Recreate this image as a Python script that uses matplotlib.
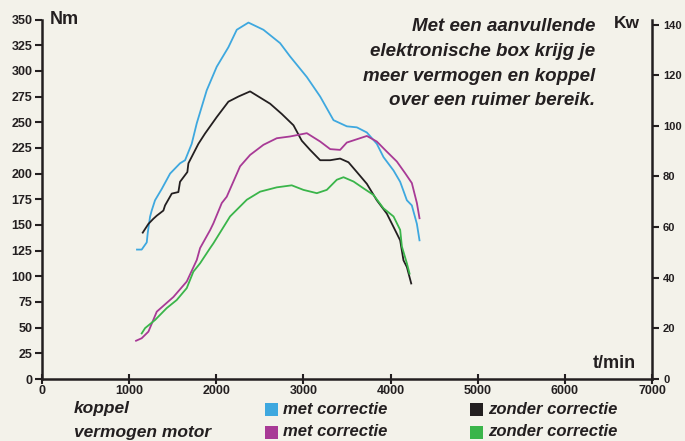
import matplotlib
matplotlib.use("Agg")
import matplotlib.pyplot as plt
from matplotlib.patches import Rectangle

# --- data ---
rpm_koppel_met = [1090, 1144, 1202, 1213, 1240, 1259, 1297, 1374, 1470, 1584, 1642, 1718, 1776, 1890,
                  2005, 2139, 2235, 2369, 2541, 2732, 2847, 3039, 3192, 3345, 3498, 3613, 3728, 3842,
                  3919, 4034, 4110, 4187, 4244, 4302, 4332]
nm_koppel_met = [126, 126, 133, 142, 158, 164, 174, 185, 200, 210, 213, 229, 249, 281,
                 304, 323, 340, 347, 340, 327, 314, 294, 275, 252, 246, 245, 240, 229,
                 216, 203, 192, 174, 169, 151, 135]

rpm_koppel_zonder = [1156, 1221, 1278, 1317, 1393, 1412, 1489, 1565, 1584, 1668, 1680, 1795, 1871,
                     2005, 2139, 2254, 2388, 2503, 2618, 2752, 2886, 2981, 3077, 3192, 3307, 3421,
                     3517, 3613, 3728, 3842, 3957, 4034, 4110, 4148, 4187, 4237]
nm_koppel_zonder = [142.5, 151, 156, 159, 164, 169, 180.5, 182, 192, 201.5, 210, 229, 239,
                    255, 270, 275, 280, 274, 268, 258, 247, 232, 223, 213, 213, 214.6,
                    211, 201.5, 190, 174, 161, 148, 135, 115.6, 109, 93]

rpm_vermogen_met = [1079, 1144, 1221, 1317, 1508, 1661, 1776, 1814, 1929, 1967, 2063, 2120, 2273,
                    2388, 2541, 2694, 2847, 3039, 3192, 3307, 3421, 3498, 3613, 3728, 3842, 3957,
                    4072, 4167, 4244, 4302, 4332]
kw_vermogen_met = [15.1, 16.1, 18.7, 26.6, 32.4, 38.5, 47.0, 51.7, 58.8, 61.5, 69.5, 72, 84,
                   88.5, 92.5, 95.1, 95.8, 97.1, 93.8, 90.8, 90.5, 93.4, 94.7, 96, 93.8, 89.8,
                   85.9, 81.3, 77.4, 69.5, 63.5]

rpm_vermogen_zonder = [1144, 1183, 1297, 1431, 1546, 1661, 1737, 1814, 1929, 1967, 2158, 2350,
                       2503, 2694, 2866, 3000, 3154, 3268, 3383, 3460, 3575, 3690, 3804, 3919,
                       4034, 4110, 4130, 4187, 4218]
kw_vermogen_zonder = [18.0, 20.1, 23.3, 28, 31.2, 35.9, 42.4, 45.7, 51.7, 53.6, 64.2, 70.8,
                      74, 75.7, 76.5, 74.7, 73.4, 74.7, 78.7, 79.7, 78, 75.3, 72.7, 67.4,
                      64.2, 58.9, 52.3, 45.7, 41.6]

nm_ticks = list(range(0, 351, 25))
kw_ticks = list(range(0, 141, 20))
rpm_ticks = list(range(0, 7001, 1000))

title_lines = "Met een aanvullende\nelektronische box krijg je\nmeer vermogen en koppel\nover een ruimer bereik."

BG = "#f3f2ea"
INK = "#231f20"
BLUE = "#3ea8df"
BLACK = "#231f20"
MAGENTA = "#a83a96"
GREEN = "#3ab54a"

plt.rcParams["font.family"] = ["Liberation Sans", "DejaVu Sans"]

fig = plt.figure(figsize=(6.85, 4.41), dpi=100, facecolor=BG)
ax = fig.add_axes([42 / 685, 62 / 441, 610 / 685, 359.5 / 441])
ax.set_facecolor(BG)
ax2 = ax.twinx()

ax.plot(rpm_koppel_met, nm_koppel_met, color=BLUE, lw=1.3)
ax.plot(rpm_koppel_zonder, nm_koppel_zonder, color=BLACK, lw=1.3)
ax2.plot(rpm_vermogen_met, kw_vermogen_met, color=MAGENTA, lw=1.3)
ax2.plot(rpm_vermogen_zonder, kw_vermogen_zonder, color=GREEN, lw=1.3)

ax.set_xlim(0, 7000)
ax.set_ylim(0, 350)
ax2.set_ylim(0, 142)

for a in (ax, ax2):
    a.spines["top"].set_visible(False)
    for s in a.spines.values():
        s.set_color(INK)
        s.set_linewidth(1.8)
ax.spines["right"].set_visible(False)
ax2.spines["left"].set_visible(False)
ax2.spines["bottom"].set_visible(False)
ax2.spines["right"].set_bounds(0, 142)

ax.set_xticks(rpm_ticks)
ax.set_xticklabels([str(t) for t in rpm_ticks])
ax.set_yticks(nm_ticks)
ax.set_yticklabels([str(t) for t in nm_ticks])
ax2.set_yticks(kw_ticks)
ax2.set_yticklabels([str(t) for t in kw_ticks])

ax.tick_params(axis="x", direction="inout", length=7, width=1.5, color=INK, pad=1,
               labelsize=9, labelcolor=INK)
ax.tick_params(axis="y", direction="out", length=5, width=1.5, color=INK, pad=2,
               labelsize=9, labelcolor=INK)
ax2.tick_params(axis="y", direction="out", length=5, width=1.5, color=INK, pad=3,
                labelsize=8, labelcolor=INK)
for lab in ax.get_xticklabels() + ax.get_yticklabels() + ax2.get_yticklabels():
    lab.set_fontweight("bold")

# axis unit labels
fig.text(50 / 685, 1 - 20 / 441, "Nm", fontsize=13, fontweight="bold", color=INK,
         ha="left", va="center")
fig.text(640 / 685, 1 - 24 / 441, "Kw", fontsize=12.5, fontweight="bold", color=INK,
         ha="right", va="center")
fig.text(636 / 685, 1 - 364 / 441, "t/min", fontsize=13, fontweight="bold", color=INK,
         ha="right", va="center")

fig.text(595 / 685, 1 - 18 / 441, title_lines, fontsize=13.5, fontweight="bold", style="italic",
         color=INK, ha="right", va="top", multialignment="right", linespacing=1.6)

# legend below the axis
fig.text(74 / 685, 1 - 408 / 441, "koppel", fontsize=12.5, fontweight="bold", style="italic",
         color=INK, ha="left", va="center")
fig.text(74 / 685, 1 - 432 / 441, "vermogen motor", fontsize=12.5, fontweight="bold", style="italic",
         color=INK, ha="left", va="center")

legend_rows = [(409, [(265, BLUE, "met correctie"), (470, BLACK, "zonder correctie")]),
               (432, [(265, MAGENTA, "met correctie"), (470, GREEN, "zonder correctie")])]
for y, entries in legend_rows:
    for x, col, txt in entries:
        fig.add_artist(Rectangle((x / 685, 1 - (y + 6.5) / 441), 13 / 685, 13 / 441,
                                 transform=fig.transFigure, facecolor=col, edgecolor="none"))
        fig.text((x + 18) / 685, 1 - y / 441, txt, fontsize=12, fontweight="bold",
                 style="italic", color=INK, ha="left", va="center")

fig.savefig("out.png", dpi=100, facecolor=BG)
